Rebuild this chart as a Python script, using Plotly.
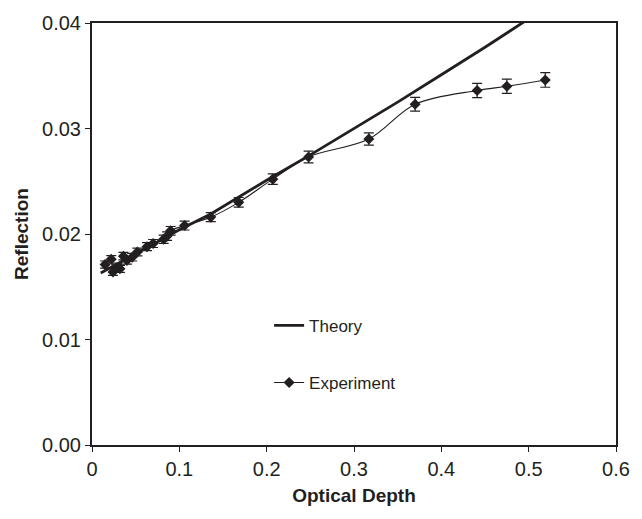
import plotly.graph_objects as go

# Theory curve
theory_x = [0.01, 0.10, 0.136, 0.20, 0.25, 0.30, 0.35, 0.40, 0.45, 0.50]
theory_y = [0.0163, 0.0204, 0.0219, 0.0251, 0.0275, 0.0300, 0.0325, 0.0351, 0.0377, 0.0404]

# Measured reflection with error bars
exp_x = [0.015, 0.022, 0.024, 0.028, 0.032, 0.036, 0.040, 0.046, 0.052, 0.063,
         0.070, 0.082, 0.086, 0.090, 0.106, 0.136, 0.168, 0.207, 0.248, 0.317,
         0.370, 0.441, 0.475, 0.519]
exp_y = [0.0171, 0.0176, 0.0164, 0.0168, 0.0167, 0.0179, 0.0175, 0.0178, 0.0183, 0.0188,
         0.0191, 0.0195, 0.0198, 0.0203, 0.0208, 0.0216, 0.0230, 0.0252, 0.0273, 0.0290,
         0.0323, 0.0336, 0.0340, 0.0346]
exp_err = [0.00034, 0.00035, 0.00033, 0.00034, 0.00033, 0.00036, 0.00035, 0.00036, 0.00037, 0.00038,
           0.00038, 0.00039, 0.00040, 0.00041, 0.00042, 0.00043, 0.00046, 0.00050, 0.00055, 0.00058,
           0.00065, 0.00067, 0.00068, 0.00069]

x_ticks = [0, 0.1, 0.2, 0.3, 0.4, 0.5, 0.6]
x_tick_text = ["0", "0.1", "0.2", "0.3", "0.4", "0.5", "0.6"]
y_ticks = [0.00, 0.01, 0.02, 0.03, 0.04]

FONT = "Liberation Sans, Arial, sans-serif"
INK = "#231f20"

fig = go.Figure()

fig.add_trace(go.Scatter(
    x=theory_x, y=theory_y, mode="lines", name="Theory",
    line=dict(color=INK, width=2.8), legendgroup="t",
))

fig.add_trace(go.Scatter(
    x=exp_x, y=exp_y, mode="lines+markers", name="Experiment",
    line=dict(color=INK, width=1.1, shape="spline", smoothing=1.0),
    marker=dict(symbol="diamond", size=8.5, color=INK),
    error_y=dict(type="data", array=exp_err, visible=True, color=INK, thickness=1.2, width=5),
    legendgroup="e",
))

axis_common = dict(
    showgrid=False, zeroline=False, showline=True, linecolor=INK, linewidth=2,
    mirror=True, ticks="outside", ticklen=5, tickwidth=1, tickcolor=INK,
    tickfont=dict(family=FONT, size=20, color=INK),
)

fig.update_layout(
    width=642, height=519,
    margin=dict(l=92, r=16, t=16, b=74),
    paper_bgcolor="white", plot_bgcolor="white",
    xaxis=dict(range=[0, 0.6], tickvals=x_ticks, ticktext=x_tick_text,
               title=dict(text="<b>Optical Depth</b>", font=dict(family=FONT, size=19, color=INK), standoff=10),
               **axis_common),
    yaxis=dict(range=[0, 0.04], tickvals=y_ticks, tickformat=".2f",
               title=dict(text="<b>Reflection</b>", font=dict(family=FONT, size=19, color=INK), standoff=8),
               **axis_common),
    legend=dict(x=0.338, y=0.325, xanchor="left", yanchor="top",
                font=dict(family=FONT, size=17, color=INK),
                tracegroupgap=32, itemwidth=30, bgcolor="rgba(0,0,0,0)"),
    showlegend=True,
)

fig.write_html("out.html")
